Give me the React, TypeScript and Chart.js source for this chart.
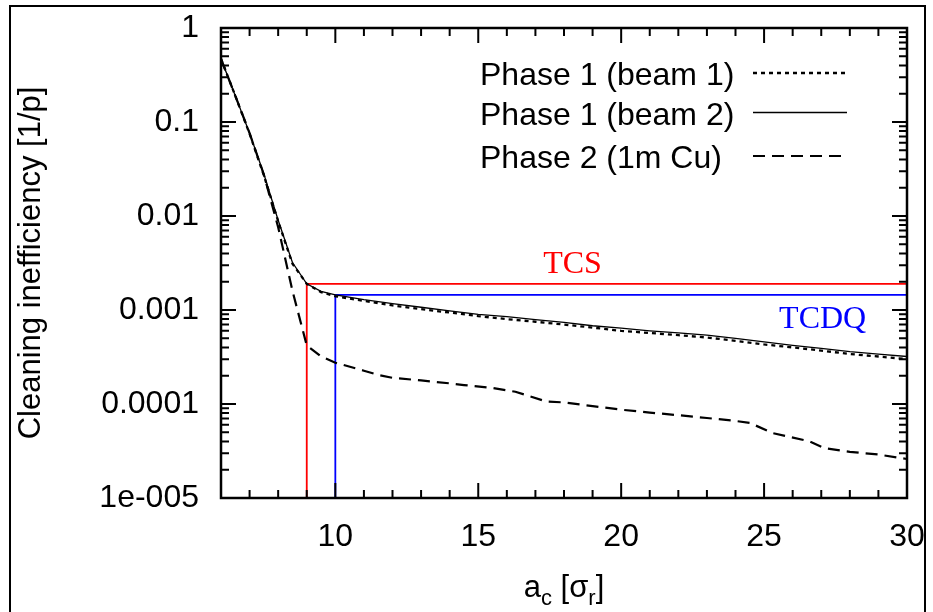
import React, { useEffect, useRef } from 'react';
import { Chart, registerables } from 'chart.js';

Chart.register(...registerables);

// ---- data ----
const PHASE1_X = [6, 6.5, 7, 7.5, 8, 8.5, 9, 9.5, 10, 11, 12, 13, 14, 15, 16, 17, 18, 19, 20, 21, 22, 23, 24, 25, 26, 27, 28, 29, 30];
const BEAM1_Y = [0.47, 0.19, 0.075, 0.027, 0.0088, 0.0031, 0.0019, 0.00155, 0.0014, 0.00125, 0.00112, 0.00102, 0.00094, 0.00086, 0.0008, 0.00075, 0.0007, 0.00065, 0.0006, 0.00057, 0.00054, 0.00051, 0.00047, 0.00043, 0.0004, 0.00037, 0.00034, 0.00032, 0.0003];
const BEAM2_Y = [0.47, 0.19, 0.076, 0.028, 0.009, 0.0032, 0.0019, 0.00158, 0.00145, 0.00129, 0.00117, 0.00107, 0.00098, 0.0009, 0.00085, 0.00079, 0.00074, 0.00068, 0.00064, 0.0006, 0.00057, 0.00054, 0.0005, 0.000457, 0.00042, 0.00039, 0.00036, 0.00034, 0.00032];
const PHASE2_X = [6, 6.5, 7, 7.5, 8, 8.5, 9, 9.5, 10, 11, 11.5, 12, 13, 14, 14.5, 15.5, 16.3, 17.4, 18, 19, 20, 21, 22, 23, 24, 24.5, 25.3, 26.6, 27.1, 28, 29, 30];
const PHASE2_Y = [0.47, 0.19, 0.076, 0.0275, 0.0076, 0.0016, 0.00042, 0.00032, 0.000275, 0.000226, 0.000204, 0.00019, 0.000178, 0.000166, 0.000159, 0.000148, 0.000135, 0.000106, 0.000104, 9.5e-5, 8.7e-5, 8.1e-5, 7.6e-5, 7.1e-5, 6.6e-5, 6.3e-5, 4.9e-5, 4.0e-5, 3.4e-5, 3.1e-5, 2.9e-5, 2.6e-5];
const SERIES_LABELS = ['Phase 1 (beam 1)', 'Phase 1 (beam 2)', 'Phase 2 (1m Cu)'];

const CUT_LABELS = ['TCS', 'TCDQ'];
const CUT_X = [9, 10];
const CUT_Y = [0.0019, 0.00145];
const CUT_COLORS = ['#ff0000', '#0000ff'];

const X_MIN = 6;
const X_MAX = 30;
const Y_MIN = 1e-5;
const Y_MAX = 1;
const X_TICKS = [10, 15, 20, 25, 30];
const X_TICK_LABELS = ['10', '15', '20', '25', '30'];
const Y_TICKS = [1e-5, 1e-4, 1e-3, 1e-2, 1e-1, 1];
const Y_TICK_LABELS = ['1e-005', '0.0001', '0.001', '0.01', '0.1', '1'];
const X_TITLE = ['a', 'c', ' [', 'σ', 'r', ']'];
const Y_TITLE = 'Cleaning inefficiency [1/p]';

const SANS = '"Liberation Sans", Arial, Helvetica, sans-serif';
const SERIF = '"Liberation Serif", "Times New Roman", serif';

const decor = {
  id: 'decor',
  beforeDraw(chart: any) {
    const { ctx, width, height } = chart;
    ctx.save();
    ctx.fillStyle = '#ffffff';
    ctx.fillRect(0, 0, width, height);
    ctx.strokeStyle = '#000';
    ctx.lineWidth = 2;
    ctx.strokeRect(10, 6, 915, height + 20);
    ctx.restore();
  },
  afterDraw(chart: any) {
    const { ctx, chartArea: a, scales } = chart;
    const xs = scales.x;
    const ys = scales.y;
    ctx.save();
    // plot border
    ctx.strokeStyle = '#000';
    ctx.lineWidth = 2.5;
    ctx.strokeRect(a.left, a.top, a.right - a.left, a.bottom - a.top);
    // inward ticks
    ctx.lineWidth = 2;
    ctx.beginPath();
    for (let v = X_MIN + 1; v < X_MAX; v++) {
      const px = xs.getPixelForValue(v);
      const len = X_TICKS.includes(v) ? 15 : 8;
      ctx.moveTo(px, a.bottom);
      ctx.lineTo(px, a.bottom - len);
      ctx.moveTo(px, a.top);
      ctx.lineTo(px, a.top + len);
    }
    for (let d = -5; d <= 0; d++) {
      for (let m = 1; m <= 9; m++) {
        const v = m * Math.pow(10, d);
        if (v <= Y_MIN || v >= Y_MAX) continue;
        const py = ys.getPixelForValue(v);
        const len = m === 1 ? 15 : 8;
        ctx.moveTo(a.left, py);
        ctx.lineTo(a.left + len, py);
        ctx.moveTo(a.right, py);
        ctx.lineTo(a.right - len, py);
      }
    }
    ctx.stroke();

    // legend (text left, line sample right)
    const legendY = [85, 124.5, 168];
    ctx.font = `32px ${SANS}`;
    ctx.fillStyle = '#000';
    ctx.textAlign = 'left';
    ctx.textBaseline = 'alphabetic';
    chart.data.datasets.slice(0, 3).forEach((ds: any, i: number) => {
      ctx.fillText(ds.label, 480, legendY[i]);
      ctx.save();
      ctx.beginPath();
      ctx.setLineDash(ds.borderDash || []);
      ctx.lineWidth = ds.borderWidth;
      ctx.strokeStyle = ds.borderColor;
      ctx.moveTo(753, legendY[i] - 12);
      ctx.lineTo(847, legendY[i] - 12);
      ctx.stroke();
      ctx.restore();
    });

    // cut labels
    ctx.font = `32px ${SERIF}`;
    ctx.textAlign = 'center';
    ctx.fillStyle = CUT_COLORS[0];
    ctx.fillText(CUT_LABELS[0], xs.getPixelForValue(18.3), ys.getPixelForValue(CUT_Y[0]) - 11);
    ctx.fillStyle = CUT_COLORS[1];
    ctx.fillText(CUT_LABELS[1], xs.getPixelForValue(27.05), ys.getPixelForValue(CUT_Y[1]) + 33);

    // x title with subscripts
    const big = `31px ${SANS}`;
    const small = `22px ${SANS}`;
    const parts = X_TITLE.map((t, i) => ({ t, sub: i === 1 || i === 4 }));
    let total = 0;
    parts.forEach((p) => {
      ctx.font = p.sub ? small : big;
      total += ctx.measureText(p.t).width;
    });
    let x = (a.left + a.right) / 2 - total / 2;
    const base = 597;
    ctx.fillStyle = '#000';
    ctx.textAlign = 'left';
    parts.forEach((p) => {
      ctx.font = p.sub ? small : big;
      ctx.fillText(p.t, x, p.sub ? base + 8 : base);
      x += ctx.measureText(p.t).width;
    });
    ctx.restore();
  },
};

export default function App() {
  const ref = useRef<HTMLCanvasElement>(null);
  useEffect(() => {
    if (!ref.current) return;
    Chart.defaults.font.family = SANS;
    const toPts = (xs: number[], ys: number[]) => xs.map((x, i) => ({ x, y: ys[i] }));
    const cutPts = (i: number) => [
      { x: CUT_X[i], y: Y_MIN },
      { x: CUT_X[i], y: CUT_Y[i] },
      { x: X_MAX, y: CUT_Y[i] },
    ];
    const chart = new Chart(ref.current, {
      type: 'line',
      data: {
        datasets: [
          { label: SERIES_LABELS[0], data: toPts(PHASE1_X, BEAM1_Y), borderColor: '#000', borderWidth: 2.3, borderDash: [4, 4], pointRadius: 0, tension: 0 },
          { label: SERIES_LABELS[1], data: toPts(PHASE1_X, BEAM2_Y), borderColor: '#000', borderWidth: 1.3, borderDash: [], pointRadius: 0, tension: 0 },
          { label: SERIES_LABELS[2], data: toPts(PHASE2_X, PHASE2_Y), borderColor: '#000', borderWidth: 2.2, borderDash: [12, 7], pointRadius: 0, tension: 0 },
          { label: CUT_LABELS[0], data: cutPts(0), borderColor: CUT_COLORS[0], borderWidth: 1.8, pointRadius: 0, tension: 0 },
          { label: CUT_LABELS[1], data: cutPts(1), borderColor: CUT_COLORS[1], borderWidth: 1.8, pointRadius: 0, tension: 0 },
        ] as any,
      },
      options: {
        animation: false,
        responsive: false,
        events: [],
        layout: { padding: { left: 0, right: 26, top: 28, bottom: 0 } },
        plugins: { legend: { display: false }, tooltip: { enabled: false } },
        scales: {
          x: {
            type: 'linear',
            min: X_MIN,
            max: X_MAX,
            grid: { display: false, drawTicks: false },
            border: { display: false },
            afterBuildTicks: (s: any) => {
              s.ticks = X_TICKS.map((v) => ({ value: v }));
            },
            afterFit: (s: any) => {
              s.height = 114;
              s.paddingLeft = 0;
              s.paddingRight = 0;
            },
            ticks: {
              autoSkip: false,
              maxRotation: 0,
              padding: 20,
              color: '#000',
              font: { size: 32 },
              callback: (_v: any, i: number) => X_TICK_LABELS[i],
            },
          },
          y: {
            type: 'logarithmic',
            min: Y_MIN,
            max: Y_MAX,
            grid: { display: false, drawTicks: false },
            border: { display: false },
            afterBuildTicks: (s: any) => {
              s.ticks = Y_TICKS.map((v) => ({ value: v }));
            },
            afterFit: (s: any) => {
              s.width = 221;
              s.paddingTop = 0;
              s.paddingBottom = 0;
            },
            ticks: {
              autoSkip: false,
              padding: 22,
              color: '#000',
              font: { size: 32 },
              callback: (_v: any, i: number) => Y_TICK_LABELS[i],
            },
            title: {
              display: true,
              text: Y_TITLE,
              color: '#000',
              font: { size: 31 },
              padding: { top: 13, bottom: 0 },
            },
          },
        },
      } as any,
      plugins: [decor],
    });
    return () => chart.destroy();
  }, []);
  return (
    <div style={{ position: 'fixed', left: 0, top: 0, width: 933, height: 612 }}>
      <canvas ref={ref} width={933} height={612} style={{ display: 'block', width: 933, height: 612 }} />
    </div>
  );
}
